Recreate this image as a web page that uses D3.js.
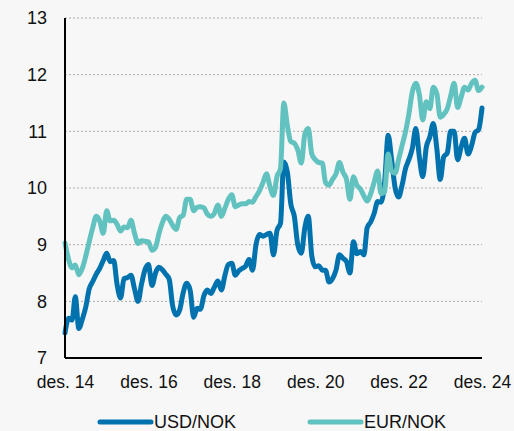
<!DOCTYPE html>
<html>
<head>
<meta charset="utf-8">
<script src="https://cdn.jsdelivr.net/npm/d3@7"></script>
<style>
  body { margin: 0; background: #f7f7f7; }
  svg { display: block; font-family: "Liberation Sans", Arial, sans-serif; }
</style>
</head>
<body>
<div id="chart"></div>
<script>
// månedlige kurser, des. 2014 - des. 2024
var startMonth = new Date(2014, 11, 1);
var usdNok = [
  7.44, 7.70, 7.67, 8.08, 7.52, 7.68, 7.90, 8.22, 8.35, 8.48, 8.58, 8.72,
  8.85, 8.70, 8.72, 8.30, 8.06, 8.40, 8.42, 8.46, 8.22, 8.00, 8.30, 8.56,
  8.65, 8.28, 8.50, 8.60, 8.56, 8.48, 8.39, 7.92, 7.76, 7.85, 8.15, 8.32,
  8.20, 7.72, 7.88, 7.86, 8.10, 8.20, 8.14, 8.25, 8.36, 8.20, 8.45, 8.65,
  8.67, 8.46, 8.54, 8.58, 8.62, 8.74, 8.55, 9.00, 9.18, 9.15, 9.18, 9.20,
  8.82, 9.25, 9.38, 10.46, 10.28, 9.72, 9.50, 9.00, 8.85, 9.30, 9.50, 8.80,
  8.61, 8.63, 8.55, 8.55, 8.34, 8.40, 8.55, 8.82, 8.76, 8.70, 8.50, 9.05,
  8.84, 8.88, 8.82, 9.30, 9.40, 9.55, 9.76, 9.75, 10.10, 10.93, 10.50, 10.00,
  9.84, 10.05, 10.35, 10.50, 10.70, 11.05, 10.55, 10.20, 10.72, 10.90, 11.14, 10.70,
  10.15, 10.55, 10.62, 11.00, 11.00, 10.50, 10.72, 10.88, 10.60, 10.75, 10.98, 11.03,
  11.41
];
var eurNok = [
  9.03, 8.74, 8.59, 8.64, 8.47, 8.58, 8.80, 9.05, 9.30, 9.50, 9.42, 9.20,
  9.60, 9.42, 9.43, 9.36, 9.24, 9.31, 9.30, 9.43, 9.20, 9.02, 9.07, 9.06,
  9.05, 8.90, 8.95, 9.18, 9.38, 9.50, 9.45, 9.34, 9.27, 9.48, 9.52, 9.80,
  9.80, 9.60, 9.66, 9.67, 9.65, 9.54, 9.50, 9.55, 9.70, 9.50, 9.64, 9.80,
  9.88, 9.67, 9.70, 9.72, 9.72, 9.76, 9.75, 9.85, 9.95, 10.10, 10.25, 10.02,
  9.87, 10.20, 10.35, 11.50, 11.10, 10.82, 10.79, 10.67, 10.44, 10.95, 11.05, 10.60,
  10.50, 10.45, 10.44, 10.10, 10.05, 10.15, 10.25, 10.45, 10.28, 10.15, 9.80, 10.20,
  10.05, 9.98, 9.86, 9.77, 9.90, 10.10, 10.30, 9.90, 9.93, 10.60, 10.30, 10.26,
  10.50, 10.75, 11.00, 11.30, 11.70, 11.85, 11.65, 11.20, 11.52, 11.40, 11.78, 11.67,
  11.25, 11.30, 11.40, 11.62, 11.85, 11.42, 11.60, 11.78, 11.73, 11.85, 11.90, 11.72,
  11.78
];
var seriesNames = ["USD/NOK", "EUR/NOK"];
var seriesColors = ["#0072ae", "#62c2bf"];
var yTicks = [7, 8, 9, 10, 11, 12, 13];
var xTickYears = [2014, 2016, 2018, 2020, 2022, 2024];

var width = 514, height = 431;
var margin = {left: 65, right: 32, top: 18, bottom: 73};

var svg = d3.select("#chart").append("svg")
    .attr("width", width)
    .attr("height", height);

var dates = usdNok.map(function(d, i) { return d3.timeMonth.offset(startMonth, i); });

var x = d3.scaleTime()
    .domain([startMonth, dates[dates.length - 1]])
    .range([margin.left, width - margin.right]);

var y = d3.scaleLinear()
    .domain([7, 13])
    .range([height - margin.bottom, margin.top]);

// rutenett
svg.append("g")
    .selectAll("line")
    .data(yTicks.slice(1))
    .enter()
    .append("line")
    .attr("x1", margin.left)
    .attr("x2", width - margin.right)
    .attr("y1", function(d) { return y(d); })
    .attr("y2", function(d) { return y(d); })
    .attr("stroke", "#b3a9a6")
    .attr("stroke-width", 1)
    .attr("stroke-dasharray", "2,2");

// y-akse
var yAxis = d3.axisLeft(y).tickValues(yTicks).tickSize(0).tickPadding(18).tickFormat(d3.format("d"));
var gy = svg.append("g")
    .attr("transform", "translate(" + margin.left + ",0)")
    .call(yAxis);
gy.select(".domain").remove();
gy.selectAll("text").attr("font-size", 18).attr("fill", "#111").attr("font-family", "Liberation Sans, Arial, sans-serif");

// x-akse
var xAxis = d3.axisBottom(x)
    .tickValues(xTickYears.map(function(yr) { return new Date(yr, 11, 1); }))
    .tickSize(0)
    .tickPadding(18)
    .tickFormat(function(d) { return "des. " + String(d.getFullYear()).slice(2); });
var gx = svg.append("g")
    .attr("transform", "translate(0," + (height - margin.bottom) + ")")
    .call(xAxis);
gx.select(".domain").remove();
gx.selectAll("text").attr("font-size", 17.5).attr("fill", "#111").attr("font-family", "Liberation Sans, Arial, sans-serif");

// linjer
var line = d3.line()
    .x(function(d, i) { return x(dates[i]); })
    .y(function(d) { return y(d); })
    .curve(d3.curveMonotoneX);

[usdNok, eurNok].forEach(function(vals, k) {
    svg.append("path")
        .datum(vals)
        .attr("fill", "none")
        .attr("stroke", seriesColors[k])
        .attr("stroke-width", 5)
        .attr("stroke-linejoin", "round")
        .attr("stroke-linecap", "round")
        .attr("d", line);
});

// akselinjer
svg.append("line")
    .attr("x1", margin.left).attr("x2", margin.left)
    .attr("y1", margin.top).attr("y2", height - margin.bottom)
    .attr("stroke", "#000").attr("stroke-width", 2);
svg.append("line")
    .attr("x1", margin.left).attr("x2", width - margin.right)
    .attr("y1", height - margin.bottom).attr("y2", height - margin.bottom)
    .attr("stroke", "#000").attr("stroke-width", 2);

// tegnforklaring
var legendX = [100, 310];
var legend = svg.selectAll(".legend")
    .data(seriesNames)
    .enter()
    .append("g")
    .attr("class", "legend")
    .attr("transform", function(d, i) { return "translate(" + legendX[i] + ",422)"; });
legend.append("line")
    .attr("x1", 0).attr("x2", 51)
    .attr("stroke", function(d, i) { return seriesColors[i]; })
    .attr("stroke-width", 5)
    .attr("stroke-linecap", "round");
legend.append("text")
    .attr("x", 54)
    .attr("y", 6)
    .attr("font-size", 18)
    .attr("fill", "#111")
    .text(function(d) { return d; });
</script>
</body>
</html>
